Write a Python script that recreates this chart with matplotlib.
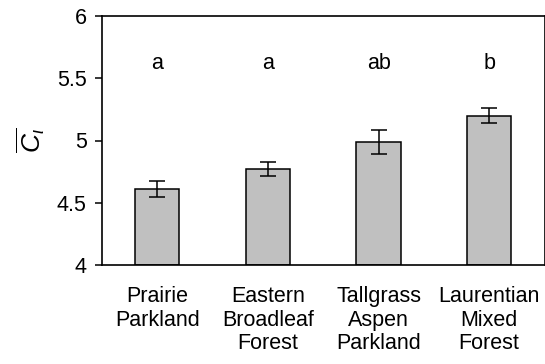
import numpy as np
import matplotlib
matplotlib.use("Agg")
import matplotlib.pyplot as plt

plt.rcParams['font.family'] = ['Liberation Sans', 'DejaVu Sans']
plt.rcParams['mathtext.fontset'] = 'custom'
plt.rcParams['mathtext.rm'] = 'Liberation Sans'
plt.rcParams['mathtext.it'] = 'Liberation Sans:italic'

# ecozone means with standard errors and group letters
regions = ["Prairie\nParkland", "Eastern\nBroadleaf\nForest",
           "Tallgrass\nAspen\nParkland", "Laurentian\nMixed\nForest"]
means = [4.61, 4.77, 4.99, 5.20]
errs = [0.065, 0.055, 0.095, 0.06]
groups = ["a", "a", "ab", "b"]
letter_y = 5.575

fs = 15.5

fig = plt.figure(figsize=(5.45, 3.64), dpi=100)
ax = fig.add_axes([102/545, 1 - 265/364, 442.5/545, 249/364])

x = np.arange(len(regions))
ax.bar(x, [m - 4 for m in means], bottom=4, width=0.4, color='#c0c0c0',
       edgecolor='black', linewidth=1.1)
ax.errorbar(x, means, yerr=errs, fmt='none', ecolor='black',
            elinewidth=1.1, capsize=5.5, capthick=1.1)
for xi, g in zip(x, groups):
    ax.text(xi, letter_y, g, ha='center', va='baseline', fontsize=fs)

ax.set_xlim(-0.5, len(regions) - 0.5)
ax.set_ylim(4, 6)
ax.set_yticks([4, 4.5, 5, 5.5, 6])
ax.set_yticklabels(["4", "4.5", "5", "5.5", "6"])
ax.set_xticks(x)
ax.set_xticklabels(regions, fontsize=fs, linespacing=1.17)
ax.tick_params(axis='x', length=0, pad=15)
ax.tick_params(axis='y', direction='out', length=5, width=1.1, labelsize=fs, pad=6)
for s in ax.spines.values():
    s.set_linewidth(1.2)

ax.set_ylabel(r'$\overline{C_{\iota}}$', fontsize=19, labelpad=7)

fig.savefig("out.png", dpi=100)
